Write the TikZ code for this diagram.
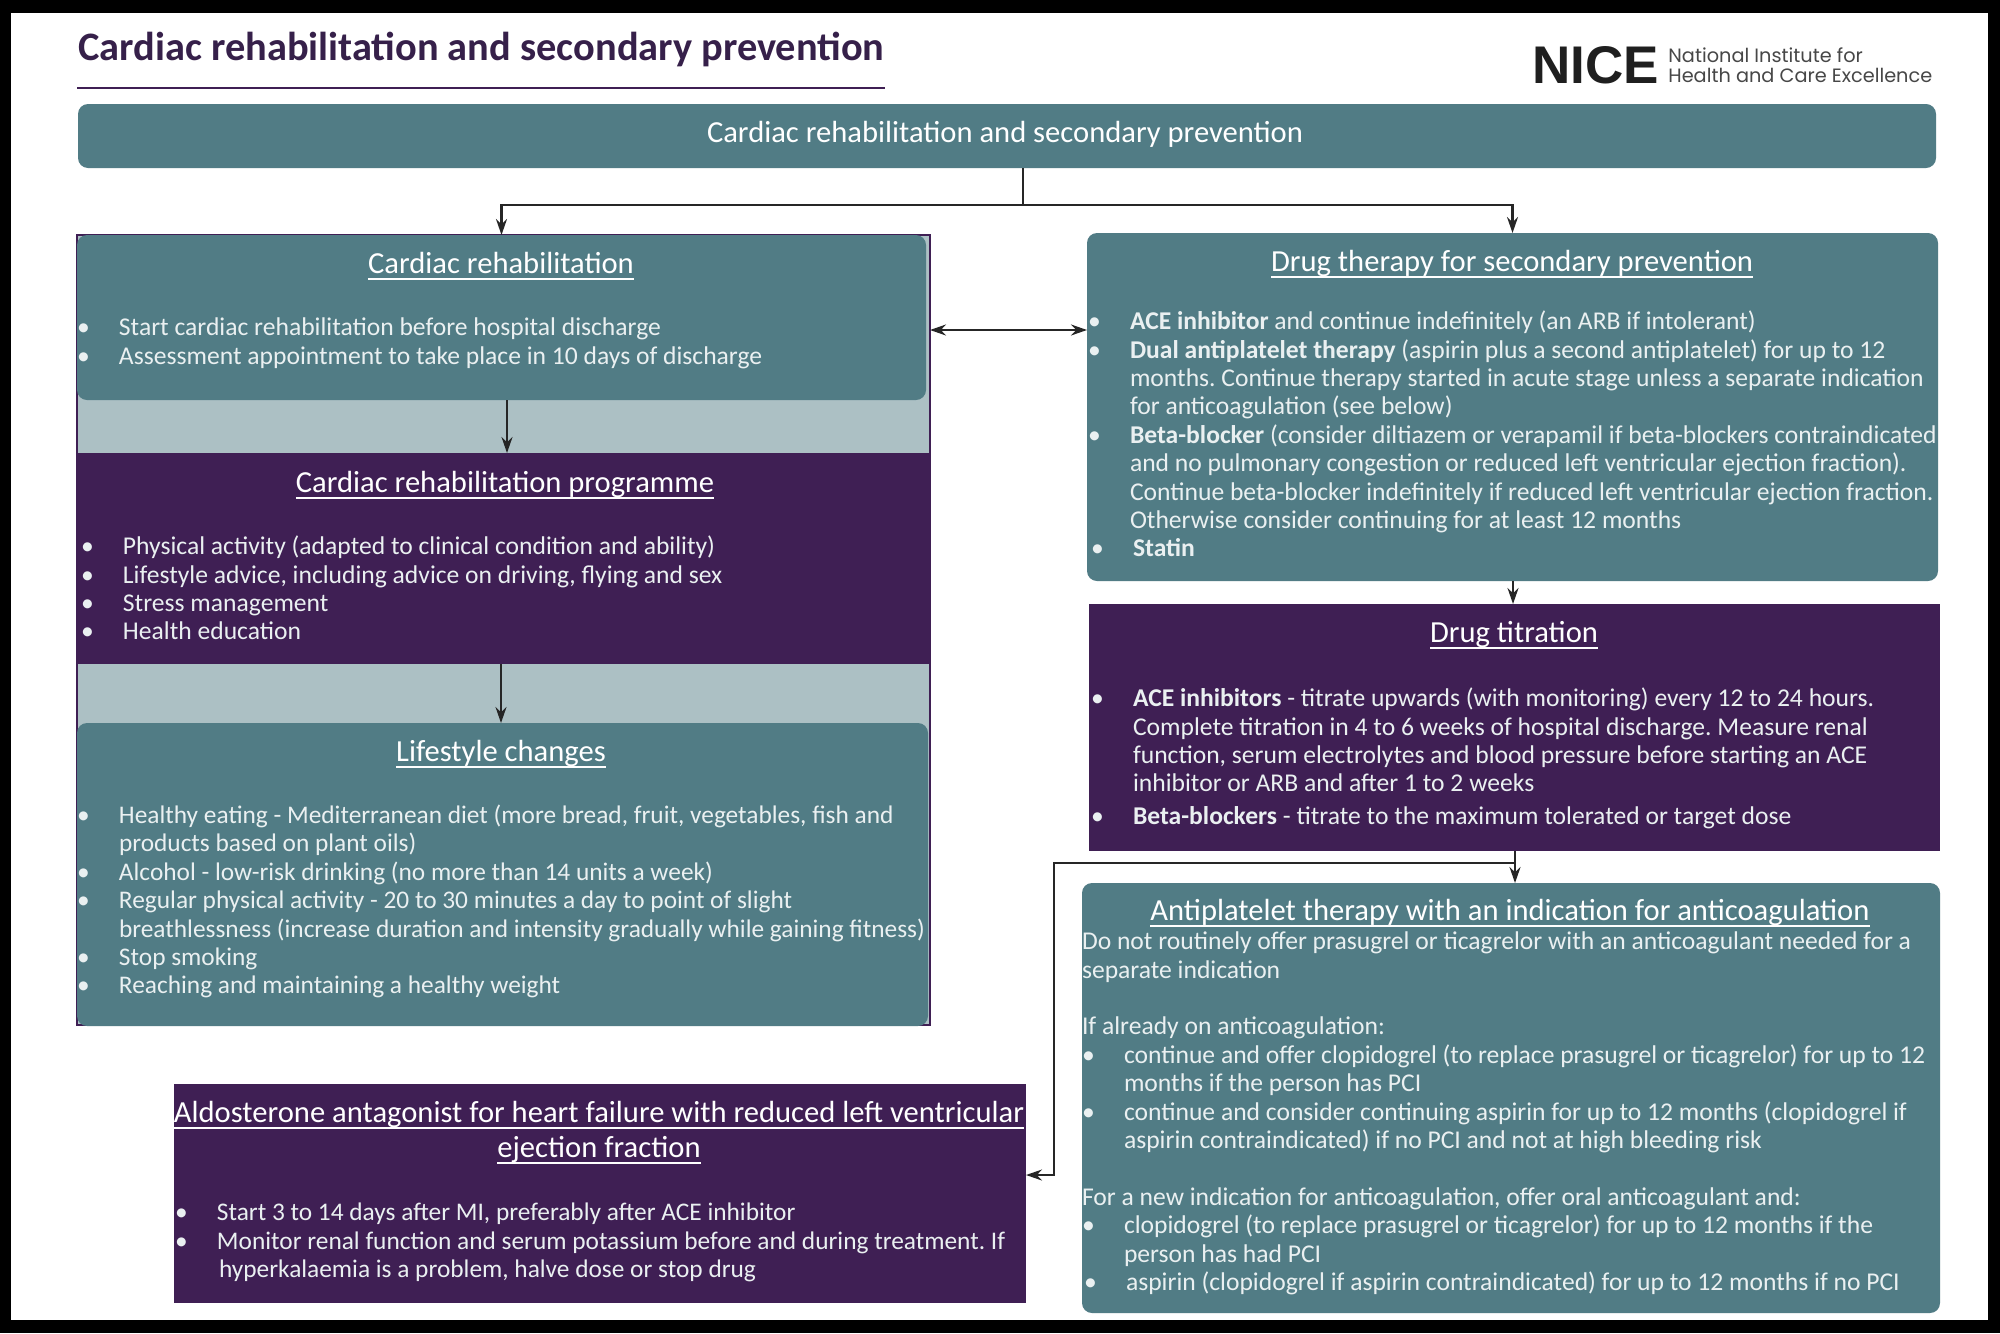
\documentclass[tikz,border=0pt]{standalone}
\usepackage{fontspec}
\usetikzlibrary{arrows.meta,fit,calc}
\setmainfont{Carlito}
\newfontfamily\nicefont{Liberation Sans}
\newfontfamily\nicesub{Poppins}
\definecolor{teal1}{HTML}{517C85}
\definecolor{plum}{HTML}{3F1F54}
\definecolor{pale}{HTML}{ACC0C4}
\definecolor{ink}{HTML}{36204A}
\definecolor{body}{HTML}{EAF0F1}
\newcommand{\bl}{\makebox[21pt][l]{•}}
\newcommand{\hg}{\hspace*{21pt}}
\newcommand{\ul}[1]{\leavevmode\setbox0\hbox{#1}\rlap{\rule[-3.4pt]{\wd0}{0.7pt}}\box0}
\frenchspacing
\tikzset{
 box/.style={inner sep=0pt,outer sep=0pt,draw=none},
 tealbox/.style={box,fill=teal1,rounded corners=5pt},
 plumbox/.style={box,fill=plum},
 conn/.style={draw=black!85,line width=1.05pt},
 arr/.style={conn,-{Stealth[length=8pt,width=5.5pt]}},
 dbl/.style={conn,{Stealth[length=8pt,width=5.5pt]}-{Stealth[length=8pt,width=5.5pt]}},
 txt/.style={anchor=north west,inner sep=0pt,outer sep=0pt,align=left,text=body,yshift=-2pt,
   font=\frenchspacing\fontsize{12.8pt}{14.2pt}\selectfont},
 txtsmall/.style={txt,font=\frenchspacing\fontsize{12.68pt}{14.2pt}\selectfont},
 head/.style={anchor=base,inner sep=0pt,outer sep=0pt,align=center,text=white,
   font=\fontsize{15.3pt}{17.5pt}\selectfont},
}
\begin{document}
\begin{tikzpicture}[x=0.5pt,y=-0.5pt]
\useasboundingbox (0,0) rectangle (2000,1333);
\fill[black] (0,0) rectangle (2000,1333);
\fill[white] (11,13) rectangle (1988,1320);

% title and logo
\node[anchor=base west,inner sep=0pt,text=ink,font=\fontsize{20.2pt}{24pt}\selectfont\bfseries] (title) at (78,60) {Cardiac rehabilitation and secondary prevention};
\coordinate (ruleL) at (77,88);
\coordinate (ruleR) at (885,88);
\draw[plum,line width=0.7pt] (ruleL) -- (ruleR);
\node[anchor=base west,inner sep=0pt,text=black!88,font=\fontsize{26.5pt}{28pt}\selectfont\nicefont\bfseries] (nice) at (1532,83) {NICE};
\node[anchor=base west,inner sep=0pt,text=black!72,font=\fontsize{9.65pt}{10pt}\selectfont\nicesub] (nice1) at (1668,62) {National Institute for};
\node[anchor=base west,inner sep=0pt,text=black!72,font=\fontsize{9.65pt}{10pt}\selectfont\nicesub] (nice2) at (1668,82) {Health and Care Excellence};

% pale band and frame behind the left column
\node[box,fill=pale,draw=plum,line width=0.6pt,fit={(77,235)(930,1025)}] (column) {};

% boxes
\node[tealbox,fit={(78,104)(1936,168)}] (banner) {};
\node[tealbox,fit={(77,235)(926,400)}] (rehab) {};
\node[plumbox,fit={(78,453)(931,664)}] (prog) {};
\node[tealbox,fit={(77,723)(928,1026)}] (life) {};
\node[tealbox,fit={(1087,233)(1938,581)}] (drug) {};
\node[plumbox,fit={(1089,604)(1940,851)}] (titr) {};
\node[tealbox,fit={(1082,883)(1940,1313)}] (anti) {};
\node[plumbox,fit={(174,1084)(1026,1303)}] (aldo) {};

% connectors
\coordinate (xtop) at (1023,0);
\coordinate (x1) at (507,0);
\coordinate (x2) at (501,0);
\coordinate (x3) at (1513,0);
\coordinate (x4) at (1515,0);
\coordinate (y1) at (0,330);
\coordinate (y2) at (0,1175);
\coordinate (y3) at (0,863);
\coordinate (xb) at (1054,0);
\draw[arr] (banner.south -| xtop) -- ++(0,37) -| (rehab.north);
\draw[arr] (banner.south -| xtop) -- ++(0,37) -| (drug.north);
\draw[arr] (rehab.south -| x1) -- (prog.north -| x1);
\draw[arr] (prog.south -| x2) -- (life.north -| x2);
\draw[dbl] (column.east |- y1) -- (drug.west |- y1);
\draw[arr] (drug.south -| x3) -- (titr.north -| x3);
\draw[arr] (titr.south -| x4) -- (anti.north -| x4);
\draw[arr] (x4 |- y3) -| (xb |- y2) -- (aldo.east |- y2);

% banner text
\node[head] (bannertxt) at (1005,142) {Cardiac rehabilitation and secondary prevention};

% left column
\node[head] (rehabh) at (501,273) {\ul{Cardiac rehabilitation}};
\node[txt] (rehabt) at (77,314) {\bl Start cardiac rehabilitation before hospital discharge\\
\bl Assessment appointment to take place in 10 days of discharge};
\node[head] (progh) at (505,492) {\ul{Cardiac rehabilitation programme}};
\node[txt] (progt) at (81,532) {\bl Physical activity (adapted to clinical condition and ability)\\
\bl Lifestyle advice, including advice on driving, flying and sex\\
\bl Stress management\\
\bl Health education};
\node[head] (lifeh) at (501,761) {\ul{Lifestyle changes}};
\node[txtsmall] (lifet) at (77,801) {\bl Healthy eating - Mediterranean diet (more bread, fruit, vegetables, fish and\\
\hg products based on plant oils)\\
\bl Alcohol - low-risk drinking (no more than 14 units a week)\\
\bl Regular physical activity - 20 to 30 minutes a day to point of slight\\
\hg breathlessness (increase duration and intensity gradually while gaining fitness)\\
\bl Stop smoking\\
\bl Reaching and maintaining a healthy weight};

% aldosterone
\node[head] (aldoh) at (599,1122) {\ul{Aldosterone antagonist for heart failure with reduced left ventricular}};
\node[head] (aldoh2) at (599,1157) {\ul{ejection fraction}};
\node[txtsmall] (aldot) at (175,1199) {\bl Start 3 to 14 days after MI, preferably after ACE inhibitor\\
\bl Monitor renal function and serum potassium before and during treatment. If\\
\hg\hspace*{1pt}hyperkalaemia is a problem, halve dose or stop drug};

% right column
\node[head] (drugh) at (1512,271) {\ul{Drug therapy for secondary prevention}};
\node[txt] (drugt) at (1088,307) {\bl\textbf{ACE inhibitor} and continue indefinitely (an ARB if intolerant)\\
\bl\textbf{Dual antiplatelet therapy} (aspirin plus a second antiplatelet) for up to 12\\
\hg months. Continue therapy started in acute stage unless a separate indication\\
\hg for anticoagulation (see below)\\
\bl\textbf{Beta-blocker} (consider diltiazem or verapamil if beta-blockers contraindicated\\
\hg and no pulmonary congestion or reduced left ventricular ejection fraction).\\
\hg Continue beta-blocker indefinitely if reduced left ventricular ejection fraction.\\
\hg Otherwise consider continuing for at least 12 months\\
\hspace*{1.5pt}\bl\textbf{Statin}};
\node[head] (titrh) at (1514,642) {\ul{Drug titration}};
\node[txt] (titrt) at (1091,684) {\bl\textbf{ACE inhibitors} - titrate upwards (with monitoring) every 12 to 24 hours.\\
\hg Complete titration in 4 to 6 weeks of hospital discharge. Measure renal\\
\hg function, serum electrolytes and blood pressure before starting an ACE\\
\hg inhibitor or ARB and after 1 to 2 weeks\\[2pt]
\bl\textbf{Beta-blockers} - titrate to the maximum tolerated or target dose};
\node[head] (antih) at (1510,920) {\ul{Antiplatelet therapy with an indication for anticoagulation}};
\node[txt] (antit) at (1082,928) {Do not routinely offer prasugrel or ticagrelor with an anticoagulant needed for a\\
separate indication\\[14.2pt]
If already on anticoagulation:\\
\bl continue and offer clopidogrel (to replace prasugrel or ticagrelor) for up to 12\\
\hg months if the person has PCI\\
\bl continue and consider continuing aspirin for up to 12 months (clopidogrel if\\
\hg aspirin contraindicated) if no PCI and not at high bleeding risk\\[14.2pt]
For a new indication for anticoagulation, offer oral anticoagulant and:\\
\bl clopidogrel (to replace prasugrel or ticagrelor) for up to 12 months if the\\
\hg person has had PCI\\
\hspace*{1pt}\bl aspirin (clopidogrel if aspirin contraindicated) for up to 12 months if no PCI};
\end{tikzpicture}
\end{document}
